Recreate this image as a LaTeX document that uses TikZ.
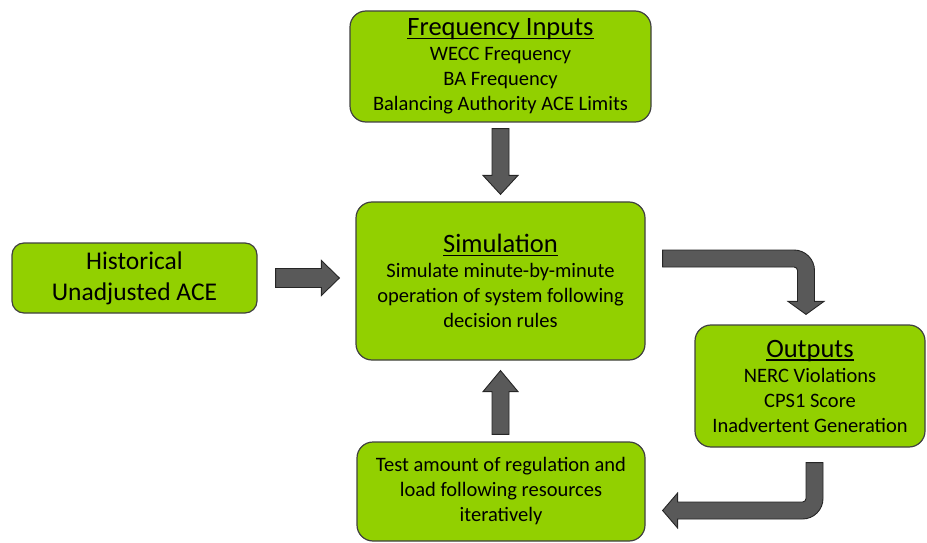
\documentclass[tikz,border=0pt]{standalone}
\usepackage{fontspec}
\setmainfont{Carlito}
\usetikzlibrary{calc}
\definecolor{boxgreen}{RGB}{146,208,0}
\definecolor{boxline}{RGB}{64,64,64}
\definecolor{arrowgray}{RGB}{89,89,89}
\definecolor{arrowline}{RGB}{38,38,38}
\newcommand\bodyfont{\fontsize{20.5}{25}\selectfont}
\newcommand\headfont{\fontsize{26.5}{25}\selectfont}
\newcommand\boxtitle[1]{\setbox0\hbox{\headfont #1}\rlap{\rule[-3.5pt]{\wd0}{1.6pt}}\box0}
\tikzset{
  greenbox/.style  = {rectangle, rounded corners=16pt, draw=boxline, fill=boxgreen,
                      line width=1.2pt, align=center, inner sep=0pt, font=\bodyfont},
  blockarrow/.style= {draw=arrowline, fill=arrowgray, line width=0.9pt, line join=miter},
}

\begin{document}
\begin{tikzpicture}[x=1pt,y=1pt]
  \useasboundingbox (0,0) rectangle (927,542);

  \node[greenbox,minimum width=301pt,minimum height=111pt] (freq) at (500.5,475.5)
       {\boxtitle{Frequency Inputs}\\ WECC Frequency\\ BA Frequency\\ Balancing Authority ACE Limits};
  \node[greenbox,minimum width=289pt,minimum height=158pt] (sim) at (500.5,261)
       {\boxtitle{Simulation}\\ Simulate minute-by-minute\\ operation of system following\\ decision rules};
  \node[greenbox,rounded corners=12pt,minimum width=245pt,minimum height=70pt,
        font=\fontsize{25.5}{31}\selectfont] (hist) at (134.5,264)
       {Historical\\ Unadjusted ACE};
  \node[greenbox,minimum width=230pt,minimum height=122pt] (out) at (810,156)
       {\boxtitle{Outputs}\\ NERC Violations\\ CPS1 Score\\ Inadvertent Generation};
  \node[greenbox,minimum width=288pt,minimum height=99pt] (test) at (501,50.5)
       {Test amount of regulation and\\ load following resources\\ iteratively};

  % straight block arrows
  \draw[blockarrow] let \p1=($(freq.south)+(0,-6)$), \p2=($(sim.north)+(0,7)$) in
       (\x1-8.5pt,\y1) -- (\x1+8.5pt,\y1) -- (\x1+8.5pt,\y2+19pt) -- (\x1+17.5pt,\y2+19pt)
       -- (\x2,\y2) -- (\x1-17.5pt,\y2+19pt) -- (\x1-8.5pt,\y2+19pt) -- cycle;
  \draw[blockarrow] let \p1=($(hist.east)+(18,0)$), \p2=($(sim.west)+(-16,0)$) in
       (\x1,\y1+9.5pt) -- (\x2-18pt,\y1+9.5pt) -- (\x2-18pt,\y1+17.5pt) -- (\x2,\y1)
       -- (\x2-18pt,\y1-17.5pt) -- (\x2-18pt,\y1-9.5pt) -- (\x1,\y1-9.5pt) -- cycle;
  \draw[blockarrow] let \p1=($(test.north)+(0,7)$), \p2=($(sim.south)+(0,-10)$) in
       (\x2-8.5pt,\y1) -- (\x2+8.5pt,\y1) -- (\x2+8.5pt,\y2-21pt) -- (\x2+17.5pt,\y2-21pt)
       -- (\x2,\y2) -- (\x2-17.5pt,\y2-21pt) -- (\x2-8.5pt,\y2-21pt) -- cycle;

  % bent block arrows
  \draw[blockarrow] let \p1=($(sim.east)+(17,22.5)$), \p2=($(out.north)+(-4,10)$) in
       (\x1,\y1+8.5pt) -- (\x2-12pt,\y1+8.5pt) arc[start angle=90,end angle=0,radius=20.5pt]
       -- (\x2+8.5pt,\y2+13pt) -- (\x2+18pt,\y2+13pt) -- (\x2,\y2) -- (\x2-18pt,\y2+13pt)
       -- (\x2-8.5pt,\y2+13pt) -- (\x2-8.5pt,\y1-12pt) arc[start angle=0,end angle=90,radius=3.5pt]
       -- (\x1,\y1-8.5pt) -- cycle;
  \draw[blockarrow] let \p1=($(out.south)+(4.5,-15)$), \p2=($(test.east)+(17,-19)$) in
       (\x1-8.5pt,\y1) -- (\x1+8.5pt,\y1) -- (\x1+8.5pt,\y2+12pt)
       arc[start angle=0,end angle=-90,radius=20.5pt] -- (\x2+15pt,\y2-8.5pt)
       -- (\x2+15pt,\y2-17.5pt) -- (\x2,\y2) -- (\x2+15pt,\y2+17.5pt) -- (\x2+15pt,\y2+8.5pt)
       -- (\x1-12pt,\y2+8.5pt) arc[start angle=-90,end angle=0,radius=3.5pt] -- cycle;
\end{tikzpicture}
\end{document}
